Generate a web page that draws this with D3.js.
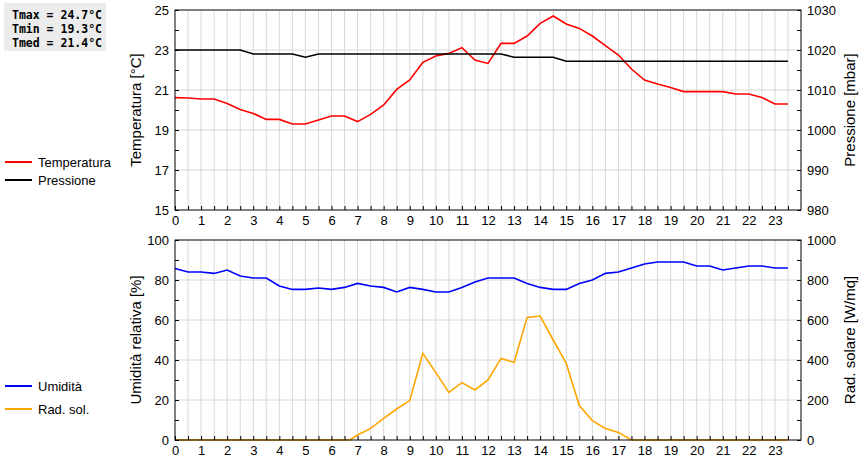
<!DOCTYPE html><html><head><meta charset="utf-8"><script src="https://cdn.jsdelivr.net/npm/d3@7"></script>
<style>body{margin:0;background:#fff}text{font-family:"Liberation Sans",Arial,sans-serif}</style></head><body><svg id="c" width="860" height="460"></svg><script>
const hours=d3.range(0,24,0.5);
const temperature=[20.62,20.6,20.55,20.55,20.33,20.03,19.83,19.53,19.53,19.3,19.3,19.5,19.7,19.7,19.42,19.78,20.25,21.03,21.5,22.38,22.7,22.83,23.12,22.5,22.33,23.33,23.33,23.7,24.33,24.7,24.3,24.08,23.7,23.22,22.75,22.05,21.5,21.3,21.12,20.92,20.92,20.92,20.92,20.8,20.8,20.62,20.3,20.3];
const pressure=[1020,1020,1020,1020,1020,1020,1019,1019,1019,1019,1018.2,1019,1019,1019,1019,1019,1019,1019,1019,1019,1019,1019,1019,1019,1019,1019,1018.2,1018.2,1018.2,1018.2,1017.2,1017.2,1017.2,1017.2,1017.2,1017.2,1017.2,1017.2,1017.2,1017.2,1017.2,1017.2,1017.2,1017.2,1017.2,1017.2,1017.2,1017.2];
const humidity=[85.8,84,84,83.3,85,82,81,81,77,75.3,75.3,76,75.3,76.3,78.3,77,76.3,74,76.3,75.3,74,74,76.3,79,81,81,81,78.3,76.3,75.3,75.3,78.3,80,83.3,84,86,88,89,89,89,87,87,85,86,87,87,86,86];
const radiation=[0,0,0,0,0,0,0,0,0,0,0,0,0,0,25,58,108,155,197,433,337,238,287,250,300,408,388,613,620,500,383,172,97,58,38,0,0,0,0,0,0,0,0,0,0,0,0,0];
const radStart={h:6.7,v:0};
const stats=["Tmax = 24.7°C","Tmin = 19.3°C","Tmed = 21.4°C"];
const svg=d3.select("#c");
const x=d3.scaleLinear().domain([0,24]).range([175,801]);
function panel(top,bot,yl,yr,lTicks,rTicks,lTitle,rTitle,series){
  const g=svg.append("g");
  const yL=d3.scaleLinear().domain(yl).range([bot,top]);
  const yR=d3.scaleLinear().domain(yr).range([bot,top]);
  g.append("g").selectAll("line").data(d3.range(0.5,24,0.5)).join("line").attr("x1",d=>x(d)).attr("x2",d=>x(d)).attr("y1",top).attr("y2",bot).attr("stroke","#d8d8d8");
  g.append("g").selectAll("line").data(lTicks.slice(1,-1)).join("line").attr("x1",175).attr("x2",801).attr("y1",d=>yL(d)).attr("y2",d=>yL(d)).attr("stroke","#d8d8d8");
  series.forEach(s=>{
    const y=s.right?yR:yL;
    g.append("path").datum(s.data).attr("fill","none").attr("stroke",s.color).attr("stroke-width",1.6)
     .attr("d",d3.line().x(d=>x(d[0])).y(d=>y(d[1])));
  });
  g.append("rect").attr("x",175).attr("y",top).attr("width",626).attr("height",bot-top).attr("fill","none").attr("stroke","#000");
  const ax=d3.axisBottom(x).tickValues(d3.range(0,24,0.5)).tickSize(-4).tickFormat(d=>Number.isInteger(d)?d:"");
  const gx=g.append("g").attr("transform",`translate(0,${bot})`).call(ax);
  gx.select(".domain").remove();gx.selectAll("text").attr("y",3).attr("dy","0.9em").attr("font-size",13);
  const step=(lTicks[1]-lTicks[0])/2;
  const al=d3.axisLeft(yL).tickValues(d3.range(yl[0],yl[1]+1e-9,step)).tickSize(-4).tickFormat(d=>lTicks.includes(d)?d:"");
  const gl=g.append("g").attr("transform","translate(175,0)").call(al);
  gl.select(".domain").remove();gl.selectAll("text").attr("x",-6).attr("font-size",13);
  const rstep=(rTicks[1]-rTicks[0])/2;
  const ar=d3.axisRight(yR).tickValues(d3.range(yr[0],yr[1]+1e-9,rstep)).tickSize(-4).tickFormat(d=>rTicks.includes(d)?d:"");
  const gr=g.append("g").attr("transform","translate(801,0)").call(ar);
  gr.select(".domain").remove();gr.selectAll("text").attr("x",6).attr("font-size",13);
  g.selectAll(".tick line").attr("stroke","#000");
  g.append("text").attr("transform",`translate(141,${(top+bot)/2}) rotate(-90)`).attr("text-anchor","middle").attr("font-size",15).text(lTitle);
  g.append("text").attr("transform",`translate(855,${(top+bot)/2}) rotate(-90)`).attr("text-anchor","middle").attr("font-size",15).text(rTitle);
}
const z=(a)=>hours.map((h,i)=>[h,a[i]]);
panel(10,210,[15,25],[980,1030],d3.range(15,26,2),d3.range(980,1031,10),"Temperatura [°C]","Pressione [mbar]",
 [{data:z(temperature),color:"#ff0000"},{data:z(pressure),color:"#000",right:true}]);
const radData=[[radStart.h,radStart.v]].concat(hours.map((h,i)=>[h,radiation[i]]).filter(d=>d[0]>=7&&d[0]<=17.5));
panel(240,440,[0,100],[0,1000],d3.range(0,101,20),d3.range(0,1001,200),"Umidità relativa [%]","Rad. solare [W/mq]",
 [{data:[[0,0],[radStart.h,0]],color:"#ffa500",right:true},{data:radData,color:"#ffa500",right:true},{data:[[17.5,0],[23.5,0]],color:"#ffa500",right:true},{data:z(humidity),color:"#0000ff"}]);
const leg=[["Temperatura","#ff0000",162],["Pressione","#000",180],["Umidità","#0000ff",386],["Rad. sol.","#ffa500",409]];
leg.forEach(([t,c,y])=>{svg.append("line").attr("x1",5).attr("x2",32).attr("y1",y).attr("y2",y).attr("stroke",c).attr("stroke-width",2);
 svg.append("text").attr("x",38).attr("y",y+5).attr("font-size",13).text(t);});
svg.append("rect").attr("x",4).attr("y",3).attr("width",102).attr("height",48).attr("fill","#ececec");
stats.forEach((s,i)=>svg.append("text").attr("x",12).attr("y",19+i*14).style("font-family","DejaVu Sans Mono").attr("font-weight","bold").attr("font-size",11.5).text(s));
</script></body></html>
